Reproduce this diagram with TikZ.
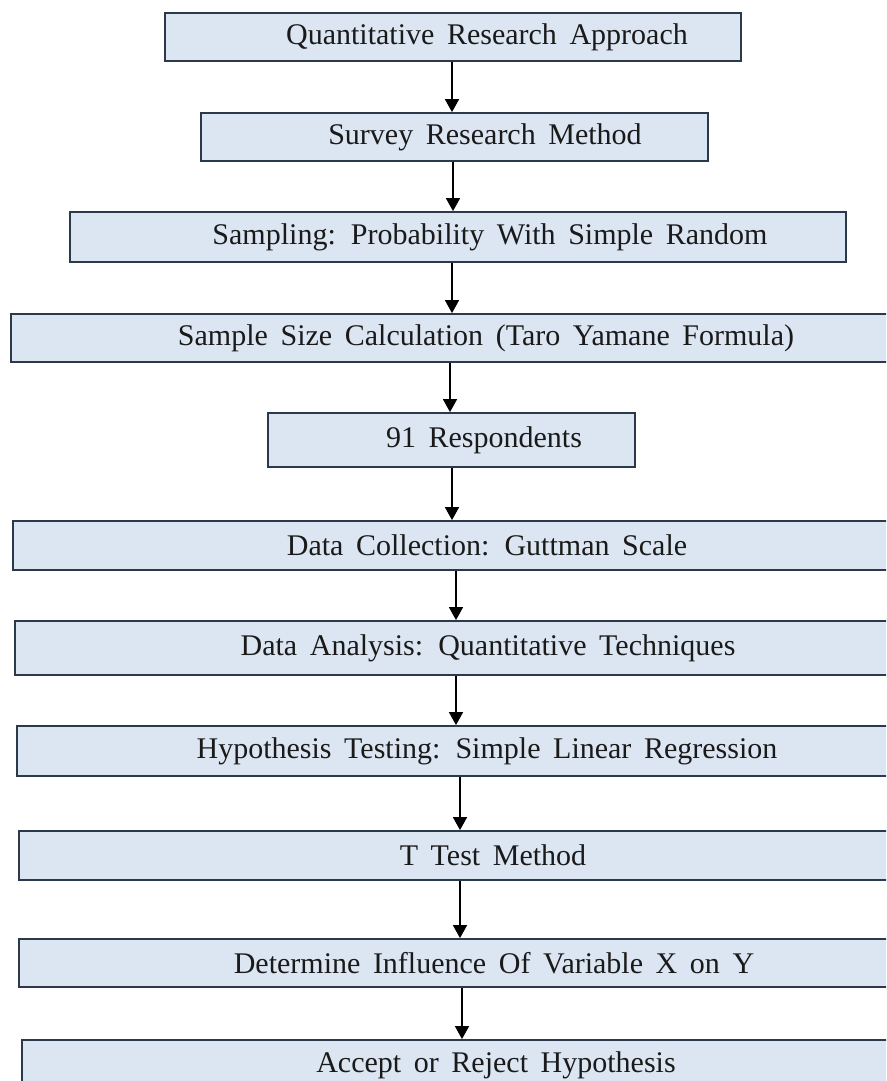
\documentclass[tikz,border=0pt]{standalone}
\usepackage{fontspec}
\setmainfont{Liberation Serif}
\usetikzlibrary{arrows.meta}
\definecolor{boxfill}{HTML}{DCE6F2}
\definecolor{boxline}{HTML}{2B3A4A}
\definecolor{txt}{HTML}{1A1A1A}
\newcommand\flowfont{\fontsize{30}{34}\selectfont\spaceskip 0.42em plus 0.1em\relax}
\tikzset{
  flowbox/.style={draw=boxline, line width=1.8pt, fill=boxfill, inner sep=0pt,
    text=txt, font={\flowfont}, anchor=center},
  flowarr/.style={draw=black, line width=1.6pt, -{Triangle[width=14pt,length=13pt]}}
}
\begin{document}
\begin{tikzpicture}[x=1pt,y=-1pt]
\useasboundingbox (0,0) rectangle (886,1081);
\clip (0,0) rectangle (886,1081);
\fill[white] (0,0) rectangle (886,1081);
\node[flowbox, minimum width=576pt, minimum height=48pt] (b1) at (453,37) {\hspace*{68pt}Quantitative Research Approach};
\node[flowbox, minimum width=507pt, minimum height=48pt] (b2) at (454.5,137) {\hspace*{61pt}Survey Research Method};
\node[flowbox, minimum width=776pt, minimum height=50pt] (b3) at (458,237) {\hspace*{64pt}Sampling: Probability With Simple Random};
\node[flowbox, minimum width=899pt, minimum height=48pt] (b4) at (460.5,338) {\hspace*{51pt}Sample Size Calculation (Taro Yamane Formula)};
\node[flowbox, minimum width=367pt, minimum height=54pt] (b5) at (451.5,440) {\hspace*{65pt}91 Respondents};
\node[flowbox, minimum width=897pt, minimum height=49pt] (b6) at (461.5,545.5) {\hspace*{51pt}Data Collection: Guttman Scale};
\node[flowbox, minimum width=895pt, minimum height=54pt] (b7) at (462.5,648) {\hspace*{51pt}Data Analysis: Quantitative Techniques};
\node[flowbox, minimum width=893pt, minimum height=50pt] (b8) at (463.5,751) {\hspace*{47pt}Hypothesis Testing: Simple Linear Regression};
\node[flowbox, minimum width=891pt, minimum height=49pt] (b9) at (464.5,855.5) {\hspace*{57pt}T Test Method};
\node[flowbox, minimum width=891pt, minimum height=48pt] (b10) at (464.5,963) {\hspace*{59pt}Determine Influence Of Variable X on Y};
\node[flowbox, minimum width=888pt, minimum height=50pt] (b11) at (466,1065) {\hspace*{60pt}Accept or Reject Hypothesis};
\coordinate (x1) at (452,0);
\coordinate (x2) at (453,0);
\coordinate (x3) at (452,0);
\coordinate (x4) at (450,0);
\coordinate (x5) at (452,0);
\coordinate (x6) at (456,0);
\coordinate (x7) at (456,0);
\coordinate (x8) at (460,0);
\coordinate (x9) at (460,0);
\coordinate (x10) at (462,0);
\draw[flowarr] (b1.south -| x1) -- (b2.north -| x1);
\draw[flowarr] (b2.south -| x2) -- (b3.north -| x2);
\draw[flowarr] (b3.south -| x3) -- (b4.north -| x3);
\draw[flowarr] (b4.south -| x4) -- (b5.north -| x4);
\draw[flowarr] (b5.south -| x5) -- (b6.north -| x5);
\draw[flowarr] (b6.south -| x6) -- (b7.north -| x6);
\draw[flowarr] (b7.south -| x7) -- (b8.north -| x7);
\draw[flowarr] (b8.south -| x8) -- (b9.north -| x8);
\draw[flowarr] (b9.south -| x9) -- (b10.north -| x9);
\draw[flowarr] (b10.south -| x10) -- (b11.north -| x10);
\end{tikzpicture}
\end{document}
